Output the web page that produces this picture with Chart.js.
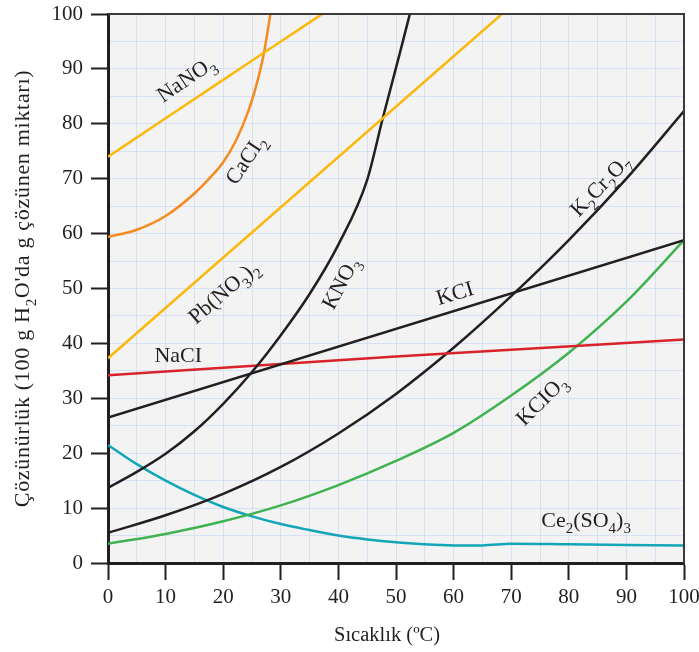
<!DOCTYPE html>
<html>
<head>
<meta charset="utf-8">
<script src="https://cdn.jsdelivr.net/npm/chart.js@4.4.0/dist/chart.umd.min.js"></script>
<style>
  html, body { margin: 0; background: #fff; }
  #wrap { width: 699px; height: 652px; }
</style>
</head>
<body>
<div id="wrap"><canvas id="chart"></canvas></div>
<script>
// temperatures (°C) and solubilities (g / 100 g water)
var nano3T = [0, 10, 20, 30, 37.2];
var nano3S = [74, 81, 88, 95, 100];

var cacl2T = [0, 5, 10, 15, 18, 20, 22, 24, 25, 26, 27, 28.2];
var cacl2S = [59.4, 60.7, 63.2, 67.3, 70.5, 73, 76.5, 81.3, 84.3, 88, 92.5, 100];

var pbT = [0, 68.4];
var pbS = [37.3, 100];

var kno3T = [0, 5, 10, 15, 20, 25, 30, 35, 40, 45, 47.7, 50.7, 52.4];
var kno3S = [13.7, 16.6, 19.9, 24, 29, 34.8, 41.5, 49, 58, 69.8, 81, 93, 100];

var kclT = [0, 100];
var kclS = [26.5, 58.8];

var naclT = [0, 50, 100];
var naclS = [34.2, 37.6, 40.7];

var k2cr2o7T = [0, 10, 20, 30, 40, 50, 60, 70, 80, 90, 100];
var k2cr2o7S = [5.5, 8.7, 12.6, 17.5, 23.6, 30.8, 39.2, 48.6, 58.8, 70, 82.3];

var kclo3T = [0, 10, 20, 30, 40, 50, 60, 70, 80, 90, 100];
var kclo3S = [3.5, 5.3, 7.6, 10.5, 14.2, 18.6, 23.7, 30.5, 38.3, 47.6, 58.8];

var ce2T = [0, 5, 10, 15, 20, 25, 30, 35, 40, 45, 50, 55, 60, 65, 70, 80, 90, 100];
var ce2S = [21.5, 18, 15, 12.4, 10.2, 8.5, 7.1, 6, 5, 4.3, 3.8, 3.4, 3.2, 3.2, 3.5, 3.4, 3.3, 3.2];

// curve labels ("_" marks a subscript digit)
var labelText  = ['NaNO_3', 'CaCI_2', 'Pb(NO_3)_2', 'KNO_3', 'KCI', 'NaCI', 'K_2Cr_2O_7', 'KCIO_3', 'Ce_2(SO_4)_3'];
var labelT     = [13.5, 23.8, 20, 40.3, 60.2, 12.2, 85.4, 75.2, 83];
var labelS     = [88.2, 73.5, 49.4, 51, 49.2, 37.9, 68.8, 29.7, 7.9];
var labelAngle = [-34, -56, -41, -62, -17, 0, -46, -45, 0];

var yTitle = 'Çözünürlük (100 g H_2O\'da g çözünen miktarı)';
var xTitle = 'Sıcaklık (ºC)';

var SERIF = '"Liberation Serif", "DejaVu Serif", serif';
var INK = '#231f20';

function pts(t, s) {
    var out = [];
    for (var i = 0; i < t.length; i++) out.push({x: t[i], y: s[i]});
    return out;
}

function line(t, s, color) {
    return {
        data: pts(t, s),
        borderColor: color,
        borderWidth: 2.5,
        pointRadius: 0,
        fill: false,
        clip: 0,
        cubicInterpolationMode: 'monotone'
    };
}

// draws text with subscripts, centred on (x, y)
function drawRich(ctx, str, x, y, angle, size, spacing) {
    var parts = [];
    var re = /_(\d)|([^_]+)/g, m;
    while ((m = re.exec(str)) !== null) {
        if (m[1]) parts.push({t: m[1], sub: true});
        else parts.push({t: m[2], sub: false});
    }
    ctx.save();
    ctx.letterSpacing = (spacing || 0) + 'px';
    var subSize = Math.round(size * 0.66);
    var total = 0;
    parts.forEach(function(p) {
        ctx.font = (p.sub ? subSize : size) + 'px ' + SERIF;
        p.w = ctx.measureText(p.t).width;
        total += p.w;
    });
    ctx.translate(x, y);
    ctx.rotate(angle * Math.PI / 180);
    ctx.fillStyle = INK;
    ctx.textBaseline = 'alphabetic';
    ctx.textAlign = 'left';
    var cx = -total / 2;
    var base = size * 0.33;
    parts.forEach(function(p) {
        ctx.font = (p.sub ? subSize : size) + 'px ' + SERIF;
        ctx.fillText(p.t, cx, base + (p.sub ? size * 0.3 : 0));
        cx += p.w;
    });
    ctx.restore();
}

var paperPlugin = {
    id: 'paper',
    beforeDraw: function(chart) {
        var a = chart.chartArea, ctx = chart.ctx;
        ctx.save();
        ctx.fillStyle = '#f3f3f3';
        ctx.fillRect(a.left, a.top, a.right - a.left, a.bottom - a.top);
        ctx.restore();
    },
    afterDraw: function(chart) {
        var a = chart.chartArea, ctx = chart.ctx;
        var xs = chart.scales.x, ys = chart.scales.y;
        ctx.save();
        ctx.strokeStyle = '#3a3a3a';
        ctx.lineWidth = 2;
        ctx.beginPath();
        ctx.moveTo(a.left, a.top);
        ctx.lineTo(a.right, a.top);
        ctx.lineTo(a.right, a.bottom);
        ctx.stroke();
        ctx.restore();

        for (var i = 0; i < labelText.length; i++) {
            drawRich(ctx, labelText[i], xs.getPixelForValue(labelT[i]), ys.getPixelForValue(labelS[i]), labelAngle[i], 22);
        }
        drawRich(ctx, yTitle, 22, (a.top + a.bottom) / 2, -90, 22, 0.7);
        drawRich(ctx, xTitle, (a.left + a.right) / 2 - 9, 634, 0, 20.5);
    }
};

var tickFont = {family: SERIF, size: 21};

function axis(extra) {
    var base = {
        type: 'linear',
        min: 0,
        max: 100,
        ticks: {
            stepSize: 5,
            autoSkip: false,
            maxRotation: 0,
            minRotation: 0,
            color: INK,
            font: tickFont,
            callback: function(v) { return v % 10 === 0 ? v : ''; }
        },
        grid: {
            color: '#d7e1f4',
            lineWidth: 1,
            tickLength: 17,
            tickWidth: 2,
            tickColor: function(ctx) {
                return ctx.tick && ctx.tick.value % 10 === 0 ? INK : 'rgba(0,0,0,0)';
            }
        },
        border: {color: INK, width: 3}
    };
    for (var k in extra) base[k] = extra[k];
    return base;
}

var xAxis = axis({afterFit: function(s) { s.height = 89; s.paddingRight = 0; s.paddingLeft = 0; }});
xAxis.ticks.padding = 5;
var yAxis = axis({afterFit: function(s) { s.width = 108; s.paddingTop = 0; s.paddingBottom = 0; }});
yAxis.ticks.padding = 8;

new Chart(document.getElementById('chart'), {
    type: 'line',
    data: {
        datasets: [
            line(nano3T, nano3S, '#fbb80f'),
            line(cacl2T, cacl2S, '#f58a1f'),
            line(pbT, pbS, '#fbb80f'),
            line(kno3T, kno3S, INK),
            line(kclT, kclS, INK),
            line(naclT, naclS, '#d8232a'),
            line(k2cr2o7T, k2cr2o7S, INK),
            line(kclo3T, kclo3S, '#3fb34f'),
            line(ce2T, ce2S, '#13a6b8')
        ]
    },
    options: {
        responsive: true,
        maintainAspectRatio: false,
        animation: false,
        layout: {padding: {top: 14, right: 15, left: 0, bottom: 0}},
        plugins: {legend: {display: false}, tooltip: {enabled: false}},
        scales: {x: xAxis, y: yAxis}
    },
    plugins: [paperPlugin]
});
</script>
</body>
</html>
